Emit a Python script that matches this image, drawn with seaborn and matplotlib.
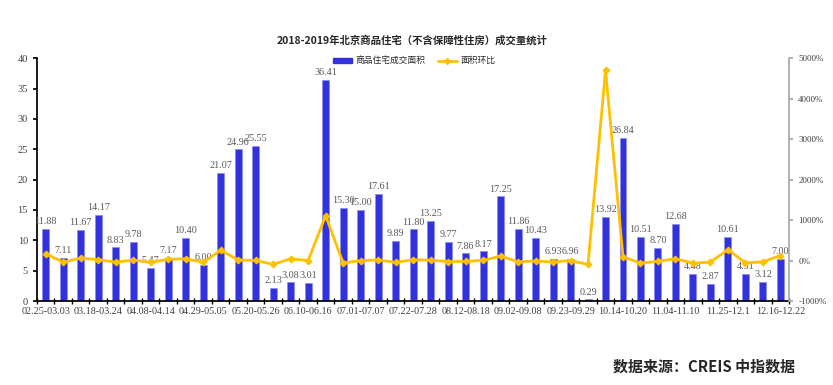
import matplotlib
matplotlib.use("Agg")
import matplotlib.pyplot as plt
import seaborn as sns
import numpy as np
from matplotlib.lines import Line2D
from matplotlib.patches import Patch

# weekly deal data, 2019
weeks = [
    "02.25-03.03", "03.04-03.10", "03.11-03.17", "03.18-03.24", "03.25-03.31",
    "04.01-04.07", "04.08-04.14", "04.15-04.21", "04.22-04.28", "04.29-05.05",
    "05.06-05.12", "05.13-05.19", "05.20-05.26", "05.27-06.02", "06.03-06.09",
    "06.10-06.16", "06.17-06.23", "06.24-06.30", "07.01-07.07", "07.08-07.14",
    "07.15-07.21", "07.22-07.28", "07.29-08.04", "08.05-08.11", "08.12-08.18",
    "08.19-08.25", "08.26-09.01", "09.02-09.08", "09.09-09.15", "09.16-09.22",
    "09.23-09.29", "09.30-10.06", "10.07-10.13", "10.14-10.20", "10.21-10.27",
    "10.28-11.03", "11.04-11.10", "11.11-11.17", "11.18-11.24", "11.25-12.1",
    "12.02-12.08", "12.09-12.15", "12.16-12.22",
]
area = [
    11.88, 7.11, 11.67, 14.17, 8.83, 9.78, 5.47, 7.17, 10.40, 6.00,
    21.07, 24.96, 25.55, 2.13, 3.08, 3.01, 36.41, 15.30, 15.00, 17.61,
    9.89, 11.80, 13.25, 9.77, 7.86, 8.17, 17.25, 11.86, 10.43, 6.93,
    6.96, 0.29, 13.92, 26.84, 10.51, 8.70, 12.68, 4.48, 2.87, 10.61,
    4.51, 3.12, 7.00,
]
# week-on-week change of area, percent
ratio = [
    170, -40, 64, 21, -38, 11, -44, 31, 45, -42,
    251, 18, 2, -92, 45, -2, 1110, -58, -2, 17,
    -44, 19, 12, -26, -20, 4, 111, -31, -12, -34,
    0, -96, 4700, 93, -61, -17, 46, -65, -36, 270,
    -57, -31, 124,
]

title = "2018-2019年北京商品住宅（不含保障性住房）成交量统计"
bar_name = "商品住宅成交面积"
line_name = "面积环比"
source = "数据来源：CREIS 中指数据"

bar_color = "#3232DC"
line_color = "#FFC000"
cjk = ["Noto Sans CJK SC", "DejaVu Sans"]

sns.set_theme(style="ticks")
plt.rcParams['font.family'] = ['Liberation Serif', 'Noto Sans CJK SC']

fig = plt.figure(figsize=(8.33, 3.85), dpi=100)
ax = fig.add_axes([0.0444, 0.218, 0.903, 0.631])

sns.barplot(x=weeks, y=area, ax=ax, color=bar_color, width=0.4,
            saturation=1, edgecolor="#8C8CF0", linewidth=0.5)
ax.bar_label(ax.containers[0], labels=[f"{v:.2f}" for v in area],
             padding=2, fontsize=7.3, color="#595959")

ax.set_xlim(-0.5, len(weeks) - 0.5)
ax.set_ylim(0, 40)
ax.set_yticks(np.arange(0, 41, 5))
ax.set_xticks(range(0, len(weeks), 3))
ax.set_xticklabels(weeks[::3], fontsize=7.3, color="#404040")
ax.set_xticks(np.arange(-0.5, len(weeks), 1), minor=True)
ax.tick_params(axis='x', which='major', length=0, pad=4)
ax.tick_params(axis='x', which='minor', length=4, direction='inout', color='black')
ax.tick_params(axis='y', labelsize=7.5, labelcolor="#404040", length=3, color='black')
ax.set_xlabel("")
ax.set_ylabel("")
for s in ["top", "right"]:
    ax.spines[s].set_visible(False)
ax.spines["left"].set_color("black")
ax.spines["bottom"].set_color("black")

ax2 = ax.twinx()
sns.lineplot(x=np.arange(len(ratio)), y=ratio, ax=ax2, color=line_color,
             linewidth=2, marker="D", markersize=3.5, markeredgecolor=line_color,
             sort=False, legend=False)
ax2.set_ylim(-1000, 5000)
ax2.set_yticks(np.arange(-1000, 5001, 1000))
ax2.set_yticklabels([f"{v}%" for v in range(-1000, 5001, 1000)])
ax2.tick_params(axis='y', labelsize=6.5, labelcolor="#404040", length=3, color="#A6A6A6")
ax2.set_ylabel("")
for s in ["top", "left", "bottom"]:
    ax2.spines[s].set_visible(False)
ax2.spines["right"].set_color("#A6A6A6")
ax2.spines["right"].set_linewidth(1.2)

handles = [Patch(color=bar_color),
           Line2D([], [], color=line_color, lw=2, marker="D", markersize=3)]
fig.legend(handles, [bar_name, line_name], loc="center", bbox_to_anchor=(0.497, 0.842),
           ncol=2, frameon=False, prop={'family': cjk, 'size': 6.3},
           handlelength=2.2, handleheight=0.5, columnspacing=1.4, handletextpad=0.4)

fig.text(0.495, 0.896, title, ha="center", va="center", fontsize=7.5,
         fontweight="bold", family=cjk)
fig.text(0.955, 0.049, source, ha="right", va="center", fontsize=10.8,
         fontweight="bold", family=cjk)

fig.savefig("out.png", dpi=100)
